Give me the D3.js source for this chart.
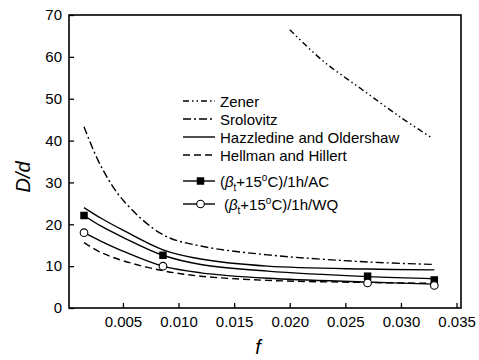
<!DOCTYPE html>
<html>
<head>
<meta charset="utf-8">
<script src="https://cdn.jsdelivr.net/npm/d3@7/dist/d3.min.js"></script>
<style>
  html, body { margin: 0; padding: 0; background: #fff; }
  svg text { font-family: "Liberation Sans", Arial, sans-serif; fill: #000; }
</style>
</head>
<body>
<svg id="chart" width="479" height="360"></svg>
<script>
// --------------- Data ---------------
const X_TICKS = [0.005, 0.01, 0.015, 0.02, 0.025, 0.03, 0.035];
const Y_TICKS = [0, 10, 20, 30, 40, 50, 60, 70];

// measured points, alloy at beta_t + 15C for 1h
const F_MEASURED = [0.0015, 0.0086, 0.027, 0.033];
const D_AC = [22.1, 12.6, 7.6, 6.7];
const D_WQ = [18.0, 10.0, 6.0, 5.4];

// model + fitted curves
const F_ZENER = [0.02, 0.023, 0.0265, 0.03, 0.0328];
const D_ZENER = [66.5, 59.0, 52.2, 45.5, 40.6];
const F_MODEL = [0.0015, 0.003, 0.005, 0.0086, 0.012, 0.018, 0.027, 0.033];
const D_SROLOVITZ = [43.3, 34.0, 25.8, 17.5, 14.8, 12.7, 11.0, 10.4];
const D_HAZZLEDINE = [24.0, 21.5, 18.6, 13.9, 11.7, 10.0, 9.3, 9.1];
const D_HELLMAN = [15.6, 13.3, 11.3, 8.9, 7.6, 6.6, 6.1, 5.9];
const D_AC_FIT = [22.1, 19.6, 16.9, 12.6, 10.4, 8.8, 7.5, 7.0];
const D_WQ_FIT = [18.0, 16.0, 13.6, 10.0, 8.4, 7.1, 6.2, 5.7];

// --------------- Constants ---------------
const LEFT = 69, RIGHT = 461, TOP = 15, BOTTOM = 308;
const FONT = 15;

const svg = d3.select("#chart");
const x = d3.scaleLinear().domain([0.00015, 0.0354]).range([LEFT, RIGHT]);
const y = d3.scaleLinear().domain([0, 70]).range([BOTTOM, TOP]);

const line = d3
  .line()
  .x((d) => x(d[0]))
  .y((d) => y(d[1]))
  .curve(d3.curveCatmullRom.alpha(0.5));

const zip = (a, b) => a.map((v, i) => [v, b[i]]);

// --------------- Axes ---------------
const xAxis = svg
  .append("g")
  .attr("transform", `translate(0,${BOTTOM})`)
  .call(
    d3.axisBottom(x).tickValues(X_TICKS).tickFormat(d3.format(".3f"))
      .tickSizeInner(-5).tickSizeOuter(0).tickPadding(8)
  );
const yAxis = svg
  .append("g")
  .attr("transform", `translate(${LEFT},0)`)
  .call(
    d3.axisLeft(y).tickValues(Y_TICKS).tickFormat(d3.format("d"))
      .tickSizeInner(-5).tickSizeOuter(0).tickPadding(7)
  );
[xAxis, yAxis].forEach((g) => {
  g.select(".domain").remove();
  g.selectAll(".tick line").attr("stroke", "#000").attr("stroke-width", 1.3);
  g.selectAll(".tick text")
    .attr("font-size", FONT)
    .attr("font-family", "Liberation Sans, Arial, sans-serif");
});

// frame
svg
  .append("rect")
  .attr("x", LEFT)
  .attr("y", TOP)
  .attr("width", RIGHT - LEFT)
  .attr("height", BOTTOM - TOP)
  .attr("fill", "none")
  .attr("stroke", "#000")
  .attr("stroke-width", 1.6);

// axis titles
svg
  .append("text")
  .attr("transform", "translate(30,177) rotate(-90)")
  .attr("text-anchor", "middle")
  .attr("font-size", 20)
  .attr("font-style", "italic")
  .text("D/d");
svg
  .append("text")
  .attr("x", 258)
  .attr("y", 354)
  .attr("text-anchor", "middle")
  .attr("font-size", 20)
  .attr("font-style", "italic")
  .text("f");

// --------------- Curves ---------------
const STYLES = {
  zener: "6,3,1.5,3,1.5,3",
  srolovitz: "8,3,2,3",
  hazzledine: null,
  hellman: "7,4",
};

const curves = [
  { key: "zener", pts: zip(F_ZENER, D_ZENER) },
  { key: "srolovitz", pts: zip(F_MODEL, D_SROLOVITZ) },
  { key: "hazzledine", pts: zip(F_MODEL, D_HAZZLEDINE) },
  { key: "hellman", pts: zip(F_MODEL, D_HELLMAN) },
  { key: "ac", pts: zip(F_MODEL, D_AC_FIT) },
  { key: "wq", pts: zip(F_MODEL, D_WQ_FIT) },
];

curves.forEach((c) => {
  svg
    .append("path")
    .datum(c.pts)
    .attr("d", line)
    .attr("fill", "none")
    .attr("stroke", "#000")
    .attr("stroke-width", 1.4)
    .attr("stroke-dasharray", STYLES[c.key] || null);
});

// markers
const square = (g, cx, cy) =>
  g.append("rect")
    .attr("x", cx - 3.75).attr("y", cy - 3.75)
    .attr("width", 7.5).attr("height", 7.5)
    .attr("fill", "#000");
const circle = (g, cx, cy) =>
  g.append("circle")
    .attr("cx", cx).attr("cy", cy).attr("r", 3.8)
    .attr("fill", "#fff").attr("stroke", "#000").attr("stroke-width", 1.1);

F_MEASURED.forEach((f, i) => {
  square(svg, x(f), y(D_AC[i]));
  circle(svg, x(f), y(D_WQ[i]));
});

// --------------- Legend ---------------
const LEG_X1 = 183, LEG_X2 = 215, TEXT_X = 220;
const legend = [
  { key: "zener", label: "Zener", y: 101 },
  { key: "srolovitz", label: "Srolovitz", y: 119 },
  { key: "hazzledine", label: "Hazzledine and Oldershaw", y: 137 },
  { key: "hellman", label: "Hellman and Hillert", y: 155 },
];
legend.forEach((d) => {
  svg
    .append("line")
    .attr("x1", LEG_X1).attr("x2", LEG_X2)
    .attr("y1", d.y).attr("y2", d.y)
    .attr("stroke", "#000")
    .attr("stroke-width", 1.4)
    .attr("stroke-dasharray", STYLES[d.key] || null);
  svg
    .append("text")
    .attr("x", TEXT_X)
    .attr("y", d.y + 5.5)
    .attr("font-size", FONT)
    .text(d.label);
});

const sampleLabel = (ly, tx, suffix) => {
  const t = svg.append("text").attr("x", tx).attr("y", ly + 5.5).attr("font-size", FONT);
  t.append("tspan").text("(");
  t.append("tspan").attr("font-style", "italic").text("β");
  t.append("tspan").attr("font-size", 10).attr("dy", 4).text("t");
  t.append("tspan").attr("dy", -4).text("+15");
  t.append("tspan").attr("font-size", 10).attr("dy", -6).text("o");
  t.append("tspan").attr("dy", 6).text("C)/1h/" + suffix);
};

[181, 204].forEach((ly, i) => {
  svg
    .append("line")
    .attr("x1", LEG_X1).attr("x2", LEG_X2)
    .attr("y1", ly).attr("y2", ly)
    .attr("stroke", "#000")
    .attr("stroke-width", 1.4);
  if (i === 0) {
    square(svg, 200.5, ly);
    sampleLabel(ly, 220, "AC");
  } else {
    circle(svg, 200.5, ly);
    sampleLabel(ly, 224, "WQ");
  }
});
</script>
</body>
</html>
